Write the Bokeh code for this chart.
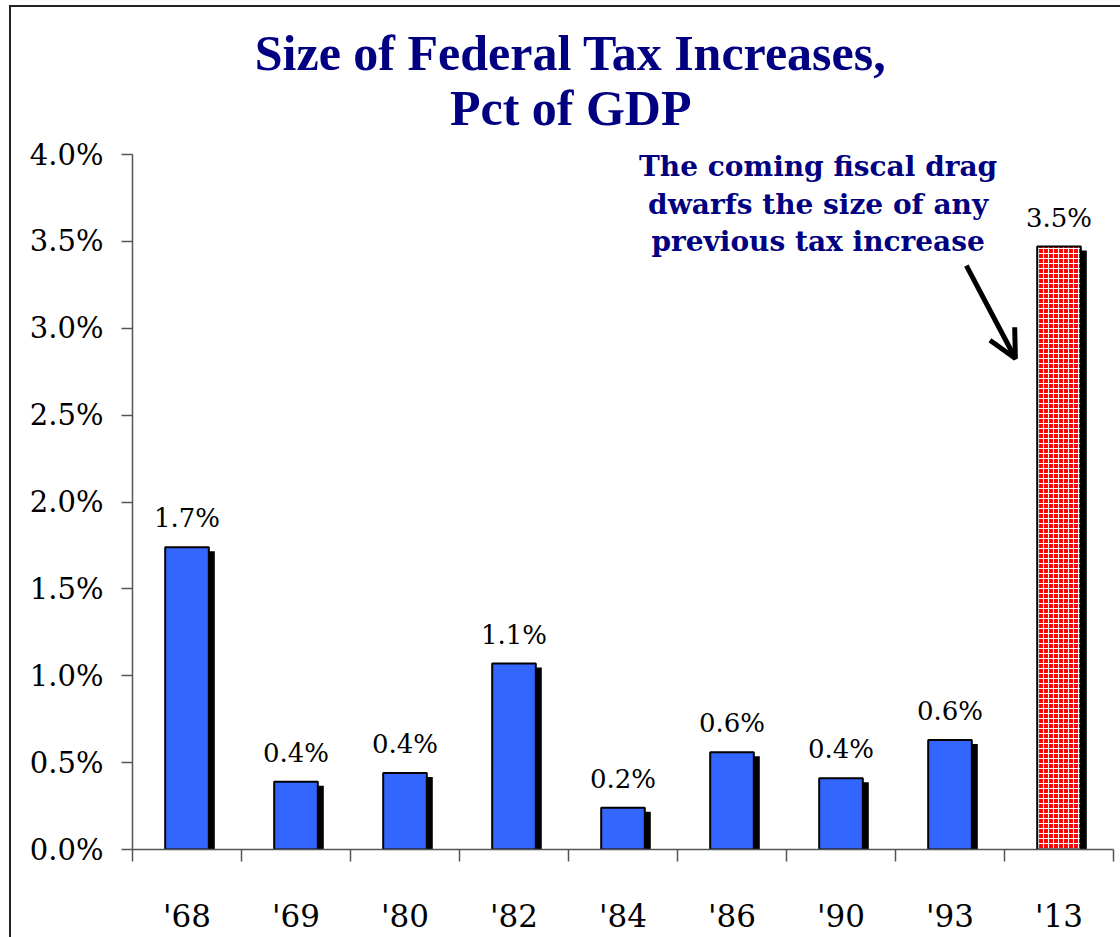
from bokeh.plotting import figure
from bokeh.models import (ColumnDataSource, FixedTicker, PrintfTickFormatter, Label, LabelSet,
                          Arrow, OpenHead, Range1d, InlineStyleSheet)
from bokeh.core.properties import value
from bokeh.embed import file_html
from bokeh.resources import INLINE

# ---- data ----
years = ["'68", "'69", "'80", "'82", "'84", "'86", "'90", "'93", "'13"]
pct_gdp = [1.74, 0.39, 0.44, 1.07, 0.24, 0.56, 0.41, 0.63, 3.47]
highlight = [False, False, False, False, False, False, False, False, True]
y_ticks = [0.0, 0.5, 1.0, 1.5, 2.0, 2.5, 3.0, 3.5, 4.0]
title_lines = ["Size of Federal Tax Increases,", "Pct of GDP"]
note_lines = ["The coming fiscal drag", "dwarfs the size of any", "previous tax increase"]

n = len(years)
xs = [i + 0.5 for i in range(n)]
labels = [f"{v:.1f}%" for v in pct_gdp]

BAR_W = 0.40
SHADOW_DX = 6 / 109.0
SHADOW_DY = 4 / 173.75
Y_TOP = 4.0 + (154 - 10) / 173.75   # frame extends above the 4.0% tick to hold the title

normal = ColumnDataSource(dict(
    x=[x for x, h in zip(xs, highlight) if not h],
    top=[v for v, h in zip(pct_gdp, highlight) if not h],
))
special = ColumnDataSource(dict(
    x=[x for x, h in zip(xs, highlight) if h],
    top=[v for v, h in zip(pct_gdp, highlight) if h],
))
shadow = ColumnDataSource(dict(
    x=[x + SHADOW_DX for x in xs],
    top=[v - SHADOW_DY for v in pct_gdp],
))
lab_src = ColumnDataSource(dict(x=xs, y=pct_gdp, text=labels))

p = figure(width=1120, height=937, output_backend="svg", toolbar_location=None,
           x_range=Range1d(0, n), y_range=Range1d(0, Y_TOP),
           min_border_left=132, min_border_right=7, min_border_top=10, min_border_bottom=88)
p.outline_line_color = None
p.xgrid.visible = False
p.ygrid.visible = False
p.background_fill_color = "white"
p.border_fill_color = "white"

# shadows
p.vbar(x="x", top="top", bottom=0, width=BAR_W, source=shadow,
       fill_color="black", line_color="black", line_width=0)
# regular bars
p.vbar(x="x", top="top", bottom=0, width=BAR_W, source=normal,
       fill_color="#3366FF", line_color="black", line_width=2)
# highlighted bar
p.vbar(x="x", top="top", bottom=0, width=BAR_W, source=special,
       fill_color="#FF0000", hatch_pattern="cross", hatch_color="white",
       hatch_scale=5, hatch_weight=1.1, line_color="black", line_width=2)

p.add_layout(LabelSet(x="x", y="y", text="text", source=lab_src, y_offset=20,
                      text_align="center", text_baseline="alphabetic",
                      text_font=value("DejaVu Serif"), text_font_size="26px", text_color="black"))

# axes
xa = p.xaxis[0]
xa.ticker = FixedTicker(ticks=xs, minor_ticks=list(range(n + 1)))
xa.major_label_overrides = {x: y for x, y in zip(xs, years)}
xa.major_tick_line_color = None
xa.major_tick_out = 0
xa.major_tick_in = 0
xa.minor_tick_line_color = "#555555"
xa.minor_tick_line_width = 1.5
xa.minor_tick_out = 12
xa.minor_tick_in = 0
xa.axis_line_color = "#555555"
xa.axis_line_width = 1.5
xa.major_label_standoff = 36
xa.major_label_text_font = "DejaVu Serif"
xa.major_label_text_font_size = "31px"
xa.major_label_text_color = "black"

ya = p.yaxis[0]
ya.ticker = FixedTicker(ticks=y_ticks)
ya.bounds = (0, 4.0)
ya.formatter = PrintfTickFormatter(format="%.1f%%")
ya.major_tick_out = 11
ya.major_tick_in = 0
ya.minor_tick_line_color = None
ya.major_tick_line_color = "#555555"
ya.major_tick_line_width = 1.5
ya.axis_line_color = "#555555"
ya.axis_line_width = 1.5
ya.major_label_standoff = 18
ya.major_label_text_font = "DejaVu Serif"
ya.major_label_text_font_size = "29px"
ya.major_label_text_color = "black"

# title
for txt, yy in zip(title_lines, [4.585, 4.265]):
    p.add_layout(Label(x=4.02, y=yy, text=txt, text_align="center", text_baseline="alphabetic",
                       text_font="Liberation Serif", text_font_style="bold",
                       text_font_size="50px", text_color="#000080"))

# annotation
for txt, yy in zip(note_lines, [3.93, 3.71, 3.497]):
    p.add_layout(Label(x=6.29, y=yy, text=txt, text_align="center", text_baseline="alphabetic",
                       text_font="DejaVu Serif", text_font_style="bold",
                       text_font_size="28px", text_color="#000080"))

p.add_layout(Arrow(x_start=7.65, y_start=3.36, x_end=8.10, y_end=2.826,
                   line_color="black", line_width=5,
                   end=OpenHead(size=28, line_width=5, line_color="black")))

# page frame (left and top rules of the slide)
p.stylesheets = [InlineStyleSheet(css="""
:host { position: relative; }
:host::after { content: ''; position: absolute; left: 9px; top: 5px; right: 0; bottom: 0;
  border-left: 2px solid #222; border-top: 2px solid #222; pointer-events: none; }
""")]

open("out.html", "w").write(file_html(p, INLINE))
